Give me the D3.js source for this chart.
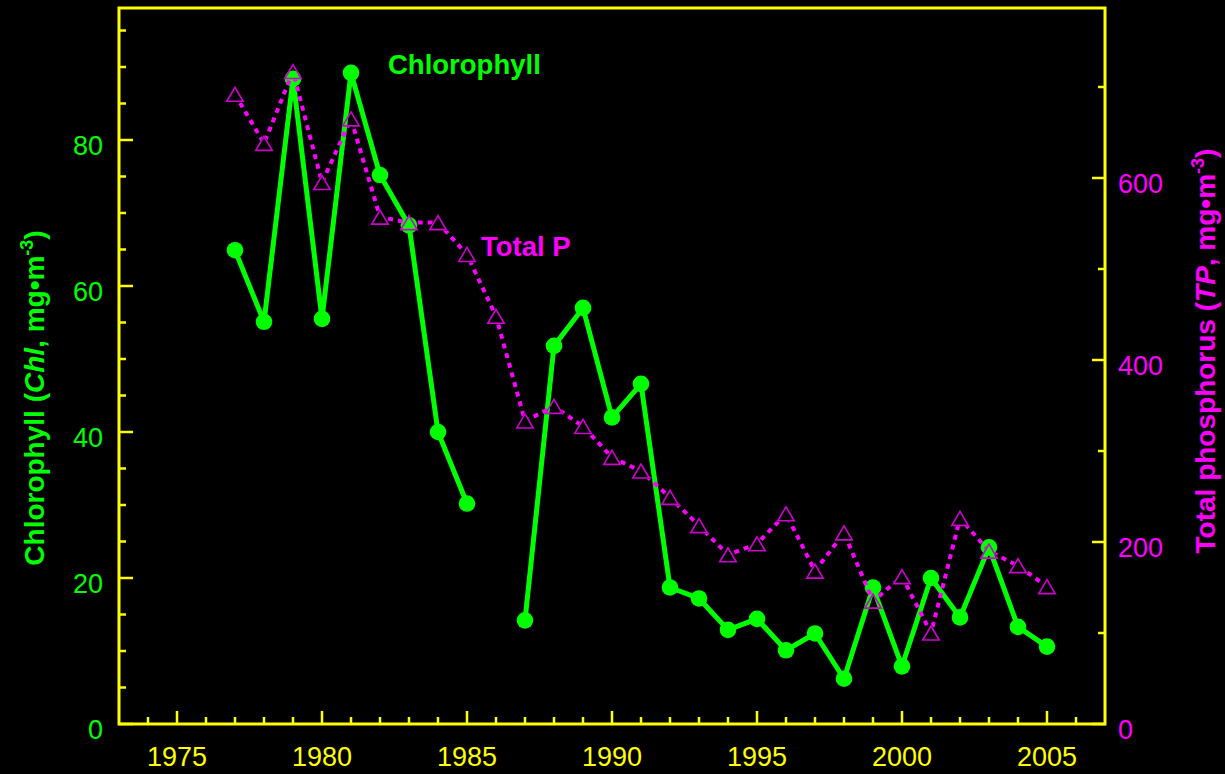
<!DOCTYPE html>
<html>
<head>
<meta charset="utf-8">
<script src="https://cdn.jsdelivr.net/npm/d3@7"></script>
<style>
  html, body { margin: 0; padding: 0; background: #000; }
  svg { display: block; }
  text { font-family: "Liberation Sans", Arial, Helvetica, sans-serif; }
</style>
</head>
<body>
<svg id="chart" width="1225" height="774"></svg>
<script>
// ---------------- DATA ----------------
const years = [1977,1978,1979,1980,1981,1982,1983,1984,1985,1986,1987,1988,1989,1990,1991,
               1992,1993,1994,1995,1996,1997,1998,1999,2000,2001,2002,2003,2004,2005];
// Chlorophyll (mg m-3); null = no data (1986)
const chlValues = [64.9,55.1,88.4,55.5,89.2,75.2,68.3,40.0,30.2,null,14.2,51.8,57.0,42.0,46.6,
                   18.7,17.2,12.9,14.4,10.1,12.4,6.2,18.7,7.9,20.0,14.6,24.2,13.3,10.6];
// Total phosphorus (mg m-3)
const tpValues = [692,638,717,595,665,557,551,551,516,448,333,349,327,293,278,
                  249,218,186,198,231,168,210,135,162,100,226,190,174,151];
const xTickLabels = [1975,1980,1985,1990,1995,2000,2005];
const chlTickLabels = [0,20,40,60,80];
const tpTickLabels = [0,200,400,600];

// ---------------- LAYOUT ----------------
const GREEN = "#00ff00", MAGENTA = "#ff00ff", TRI = "#d000d0", YELLOW = "#ffff00";
const L = 119, R = 1105, T = 8, B = 724;
const svg = d3.select("#chart");
svg.append("rect").attr("width",1225).attr("height",774).attr("fill","#000");

const x = d3.scaleLinear().domain([1973, 2007]).range([L, R]);
const yL = d3.scaleLinear().domain([0, (B - T) / 7.3]).range([B, T]);
const yR = d3.scaleLinear().domain([0, (B - T) / 0.91]).range([B, T]);

const chl = years.map((yr, i) => ({year: yr, v: chlValues[i]}));
const tp = years.map((yr, i) => ({year: yr, v: tpValues[i]}));
const triPath = "M0,-7L8.2,7L-8.2,7Z";

// ---------------- AXES / FRAME ----------------
const g = svg.append("g");
const leftMinor = d3.range(0, 96, 5);
g.selectAll(".lt").data(leftMinor).join("line")
  .attr("x1", L).attr("x2", d => L + (d % 20 === 0 ? 14 : 7))
  .attr("y1", d => yL(d)).attr("y2", d => yL(d))
  .attr("stroke", YELLOW).attr("stroke-width", 2.5);
g.selectAll(".ll").data(chlTickLabels).join("text")
  .attr("x", 103).attr("y", d => yL(d) + 15)
  .attr("text-anchor", "end").attr("fill", GREEN).attr("font-size", 27)
  .text(d => d);

const rightMinor = d3.range(0, 800, 100);
g.selectAll(".rt").data(rightMinor).join("line")
  .attr("x1", R).attr("x2", d => R - (d % 200 === 0 ? 13 : 7))
  .attr("y1", d => yR(d)).attr("y2", d => yR(d))
  .attr("stroke", YELLOW).attr("stroke-width", 2.5);
g.selectAll(".rl").data(tpTickLabels).join("text")
  .attr("x", 1118).attr("y", d => yR(d) + 15)
  .attr("text-anchor", "start").attr("fill", MAGENTA).attr("font-size", 27)
  .text(d => d);

const xMinor = d3.range(1974, 2007, 1);
g.selectAll(".bt").data(xMinor).join("line")
  .attr("x1", d => x(d)).attr("x2", d => x(d))
  .attr("y1", B).attr("y2", d => B - (d % 5 === 0 ? 13 : 7))
  .attr("stroke", YELLOW).attr("stroke-width", 2.5);
g.selectAll(".bl").data(xTickLabels).join("text")
  .attr("x", d => x(d)).attr("y", 766)
  .attr("text-anchor", "middle").attr("fill", YELLOW).attr("font-size", 27)
  .text(d => d);

g.append("rect").attr("x", L).attr("y", T).attr("width", R - L).attr("height", B - T)
  .attr("fill", "none").attr("stroke", YELLOW).attr("stroke-width", 3);

// ---------------- SERIES ----------------
const chlLine = d3.line().defined(d => d.v !== null).x(d => x(d.year)).y(d => yL(d.v));
svg.append("path").datum(chl).attr("d", chlLine)
  .attr("fill", "none").attr("stroke", GREEN).attr("stroke-width", 5)
  .attr("stroke-linejoin", "round");
svg.selectAll(".chlpt").data(chl.filter(d => d.v !== null)).join("circle")
  .attr("cx", d => x(d.year)).attr("cy", d => yL(d.v)).attr("r", 8.3)
  .attr("fill", GREEN);

// mask so the dotted line stops at the hollow triangles
const mask = svg.append("defs").append("mask").attr("id", "tpmask")
  .attr("maskUnits", "userSpaceOnUse").attr("x", 0).attr("y", 0)
  .attr("width", 1225).attr("height", 774);
mask.append("rect").attr("width", 1225).attr("height", 774).attr("fill", "#fff");
mask.selectAll("path").data(tp).join("path")
  .attr("transform", d => `translate(${x(d.year)},${yR(d.v)})`)
  .attr("d", triPath).attr("fill", "#000").attr("stroke", "#000").attr("stroke-width", 2);

const tpLine = d3.line().x(d => x(d.year)).y(d => yR(d.v));
svg.append("path").datum(tp).attr("d", tpLine)
  .attr("mask", "url(#tpmask)")
  .attr("fill", "none").attr("stroke", MAGENTA).attr("stroke-width", 4)
  .attr("stroke-dasharray", "5,5");
svg.selectAll(".tppt").data(tp).join("path")
  .attr("transform", d => `translate(${x(d.year)},${yR(d.v)})`)
  .attr("d", triPath)
  .attr("fill", "none").attr("stroke", TRI).attr("stroke-width", 1.6);

// ---------------- LABELS ----------------
svg.append("text").attr("x", 388).attr("y", 74)
  .attr("fill", GREEN).attr("font-size", 27.5).attr("font-weight", "bold")
  .text("Chlorophyll");
svg.append("text").attr("x", 481).attr("y", 256)
  .attr("fill", MAGENTA).attr("font-size", 27.5).attr("font-weight", "bold")
  .text("Total P");

const lt = svg.append("text")
  .attr("transform", "translate(44,398) rotate(-90)")
  .attr("text-anchor", "middle").attr("fill", GREEN)
  .attr("font-size", 28).attr("font-weight", "bold");
lt.append("tspan").text("Chlorophyll (");
lt.append("tspan").attr("font-style", "italic").text("Chl");
lt.append("tspan").text(", mg\u2022m");
lt.append("tspan").attr("font-size", 18).attr("dy", -11).text("-3");
lt.append("tspan").attr("dy", 11).text(")");

const rt = svg.append("text")
  .attr("transform", "translate(1215,351) rotate(-90)")
  .attr("text-anchor", "middle").attr("fill", MAGENTA)
  .attr("font-size", 28).attr("font-weight", "bold");
rt.append("tspan").text("Total phosphorus (");
rt.append("tspan").attr("font-style", "italic").text("TP");
rt.append("tspan").text(", mg\u2022m");
rt.append("tspan").attr("font-size", 18).attr("dy", -11).text("-3");
rt.append("tspan").attr("dy", 11).text(")");
</script>
</body>
</html>
